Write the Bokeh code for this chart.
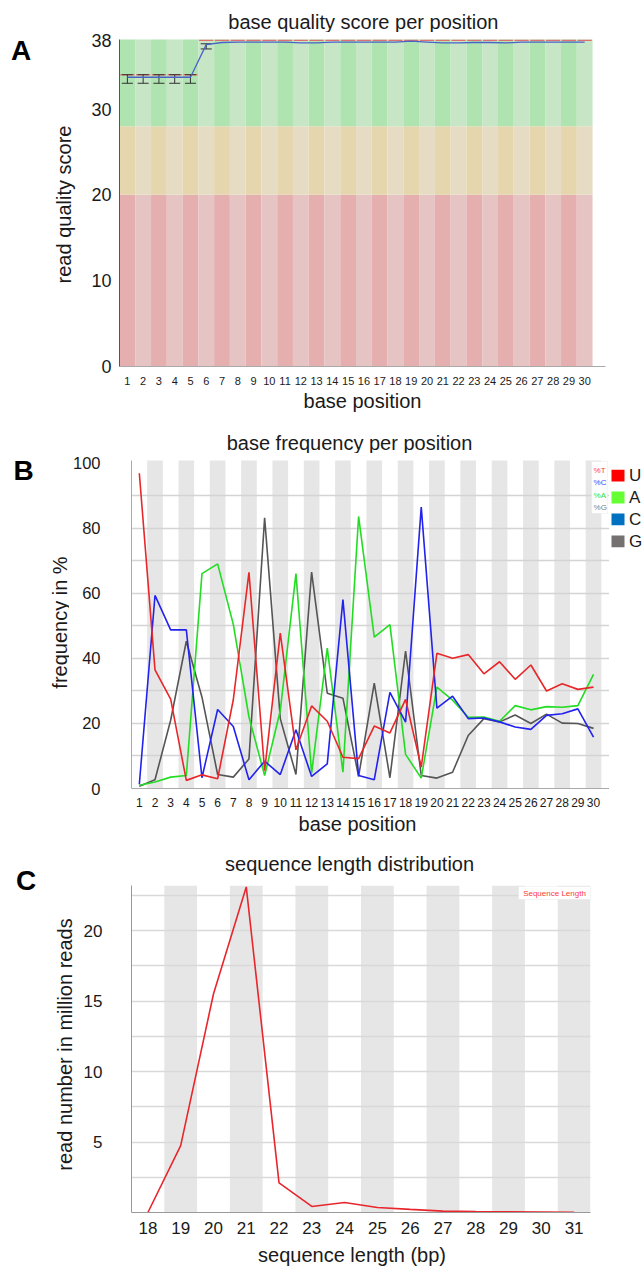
import math
from bokeh.plotting import figure
from bokeh.layouts import column, row
from bokeh.models import (Range1d, Label, FixedTicker, BoxAnnotation)
from bokeh.embed import file_html
from bokeh.resources import INLINE

# ---------------- data: panel A (base quality per position) ----------------
positions = list(range(1, 31))
qual_mean = [33.7, 33.7, 33.7, 33.7, 33.7, 37.5, 37.75, 37.8, 37.8, 37.8,
             37.8, 37.7, 37.7, 37.8, 37.8, 37.8, 37.8, 37.8, 37.9, 37.8,
             37.7, 37.7, 37.75, 37.75, 37.7, 37.8, 37.8, 37.8, 37.8, 37.8]
qual_median = [34, 34, 34, 34, 34, 38, 38, 38, 38, 38,
               38, 38, 38, 38, 38, 38, 38, 38, 38, 38,
               38, 38, 38, 38, 38, 38, 38, 38, 38, 38]
qual_whisker_low = [33, 33, 33, 33, 33, 37, 38, 38, 38, 38,
                    38, 38, 38, 38, 38, 38, 38, 38, 38, 38,
                    38, 38, 38, 38, 38, 38, 38, 38, 38, 38]
qual_whisker_high = [34, 34, 34, 34, 34, 37.6, 38, 38, 38, 38,
                     38, 38, 38, 38, 38, 38, 38, 38, 38, 38,
                     38, 38, 38, 38, 38, 38, 38, 38, 38, 38]
qual_zone_bottom = [0, 20, 28]
qual_zone_top = [20, 28, 40]
qual_yticks = [0, 10, 20, 30, 38]

# ---------------- data: panel B (base frequency per position) ----------------
freq_T = [97.0, 36.5, 27.5, 2.5, 4.2, 3.0, 27.3, 66.5, 5.5, 47.8,
          11.9, 25.4, 20.7, 9.6, 9.2, 19.2, 17.1, 27.4, 6.6, 41.6,
          40.1, 41.2, 35.3, 39.0, 33.6, 38.0, 30.0, 32.2, 30.5, 31.2]
freq_C = [1.3, 59.4, 48.8, 48.8, 3.3, 24.3, 19.1, 2.7, 8.4, 4.3,
          18.1, 3.7, 7.6, 58.1, 4.0, 2.7, 29.6, 20.4, 86.6, 24.7,
          28.4, 21.5, 21.7, 20.5, 18.9, 18.2, 22.5, 23.0, 24.5, 15.8]
freq_A = [1.0, 2.0, 3.5, 4.0, 66.1, 69.1, 50.5, 22.0, 4.0, 24.0,
          66.1, 4.7, 43.2, 5.0, 83.7, 46.6, 50.4, 10.5, 3.2, 31.2,
          27.2, 21.9, 22.0, 20.7, 25.5, 24.2, 25.2, 25.0, 25.5, 35.1]
freq_G = [0.7, 2.7, 21.0, 45.3, 28.1, 4.3, 3.5, 9.1, 83.3, 21.5,
          4.3, 66.6, 29.3, 27.8, 3.7, 32.4, 3.3, 42.3, 4.0, 3.2,
          5.0, 16.3, 21.5, 20.5, 22.6, 20.0, 22.9, 20.1, 20.0, 18.5]
freq_yticks = [0, 20, 40, 60, 80, 100]
freq_grid = [10, 20, 30, 40, 50, 60, 70, 80, 90]
inner_legend_B = ["%T", "%C", "%A", "%G"]
outer_legend_B = ["U", "A", "C", "G"]

# ---------------- data: panel C (sequence length distribution) ----------------
seq_length = [18, 19, 20, 21, 22, 23, 24, 25, 26, 27, 28, 29, 30, 31]
seq_reads_million = [0.0, 4.75, 15.5, 23.1, 2.1, 0.43, 0.71, 0.35, 0.22,
                     0.1, 0.06, 0.05, 0.04, 0.01]
seq_yticks = [5, 10, 15, 20]
seq_grid = [2.5, 5, 7.5, 10, 12.5, 15, 17.5, 20, 22.5]
seq_plot_top = 23.2

# ---------------- styling / layout helpers ----------------
FONT = "Liberation Sans"
TXT = "#1a1a1a"


def base_fig(w, h, xr, yr, **kw):
    p = figure(width=w, height=h, x_range=Range1d(*xr), y_range=Range1d(*yr),
               output_backend="svg", toolbar_location=None, tools="",
               title_location=None, **kw)
    p.outline_line_color = None
    p.background_fill_color = "white"
    p.border_fill_color = "white"
    return p


def text_fig(x0, y0, w, h):
    """Figure whose frame fills its canvas, data units = page pixels (y downward)."""
    p = base_fig(w, h, (x0, x0 + w), (y0 + h, y0), x_axis_location=None,
                 y_axis_location=None, min_border=0)
    p.xgrid.grid_line_color = None
    p.ygrid.grid_line_color = None
    return p


def put(p, X, Y, text, size, bold=False, angle=0.0, color=TXT, align="center"):
    p.add_layout(Label(x=X, y=Y, text=text, text_font=FONT, text_font_size=f"{size}px",
                       text_font_style="bold" if bold else "normal", angle=angle,
                       text_align=align, text_baseline="middle", text_color=color))


def main_fig(cx, cy, w, h, frame, xr, yr):
    L, R, T, B = frame
    p = base_fig(w, h, xr, yr, min_border_left=L - cx, min_border_right=cx + w - R,
                 min_border_top=T - cy, min_border_bottom=cy + h - B)
    p.xgrid.grid_line_color = None
    p.ygrid.grid_line_color = None
    for ax in (p.xaxis[0], p.yaxis[0]):
        ax.major_tick_line_color = None
        ax.minor_tick_line_color = None
        ax.major_tick_out = 0
        ax.major_tick_in = 0
        ax.minor_tick_out = 0
        ax.minor_tick_in = 0
        ax.major_label_text_font = FONT
        ax.major_label_text_color = TXT
    p._geom = (frame, xr, yr)
    return p


def to_data(p, X, Y):
    (L, R, T, B), (x0, x1), (y0, y1) = p._geom
    return (x0 + (X - L) / (R - L) * (x1 - x0), y0 + (B - Y) / (B - T) * (y1 - y0))


def label(p, X, Y, text, size, color=TXT, align="center"):
    x, y = to_data(p, X, Y)
    p.add_layout(Label(x=x, y=y, text=text, text_font=FONT, text_font_size=f"{size}px",
                       text_align=align, text_baseline="middle", text_color=color))


# ======================= Panel A (page y 0..426) =======================
frameA = (119, 605, 39, 366)
mA = main_fig(80, 32, 562, 358, frameA, (0.5, 31.32), (0, 38.1))

zone_dark = ["#e6afaf", "#e6d6ae", "#afe3af"]
zone_light = ["#e6c4c4", "#e6dcc4", "#c6e6c6"]
zl, zr, zb, zt, zc = [], [], [], [], []
for zi in range(len(qual_zone_bottom)):
    for pos in positions:
        zl.append(pos - 0.5)
        zr.append(pos + 0.5)
        zb.append(qual_zone_bottom[zi])
        zt.append(qual_zone_top[zi])
        zc.append(zone_dark[zi] if pos % 2 == 1 else zone_light[zi])
mA.quad(left=zl, right=zr, bottom=zb, top=zt, fill_color=zc, line_color=None)

mA.segment(x0=[q - 0.45 for q in positions], x1=[q + 0.45 for q in positions],
           y0=qual_median, y1=qual_median, line_color="#e07070", line_width=1.5)
wx = [q for q, lo, hi in zip(positions, qual_whisker_low, qual_whisker_high) if hi > lo]
wlo = [lo for lo, hi in zip(qual_whisker_low, qual_whisker_high) if hi > lo]
whi = [hi for lo, hi in zip(qual_whisker_low, qual_whisker_high) if hi > lo]
mA.segment(x0=wx, x1=wx, y0=wlo, y1=whi, line_color="#333333", line_width=1)
mA.segment(x0=[q - 0.35 for q in wx], x1=[q + 0.35 for q in wx], y0=wlo, y1=wlo,
           line_color="#333333", line_width=1)
mA.segment(x0=[q - 0.35 for q in wx], x1=[q + 0.35 for q in wx], y0=whi, y1=whi,
           line_color="#333333", line_width=1)
mA.line(positions, qual_mean, line_color="#4a63c8", line_width=1.3)

mA.xaxis.ticker = FixedTicker(ticks=positions)
mA.yaxis.ticker = FixedTicker(ticks=qual_yticks)
mA.xaxis.major_label_text_font_size = "11px"
mA.yaxis.major_label_text_font_size = "18px"
mA.xaxis.major_label_standoff = 10
mA.yaxis.major_label_standoff = 8
mA.yaxis.axis_line_color = "#555555"
mA.xaxis.axis_line_color = "#aaaaaa"

lA = text_fig(0, 0, 80, 426)
put(lA, 20.5, 50, "A", 28, bold=True, color="#000000")
put(lA, 63, 204, "read quality score", 20, angle=math.pi / 2)
tA = text_fig(80, 0, 562, 32)
put(tA, 362, 21, "base quality score per position", 20)
bA = text_fig(80, 390, 562, 36)
put(bA, 361, 400, "base position", 20)

panelA = row(lA, column(tA, mA, bA, spacing=0), spacing=0)

# ======================= Panel B (page y 426..846) =======================
frameB = (128, 609, 460, 788)
mB = main_fig(69, 453, 540, 359, frameB, (0.5, 31.02), (0, 100.92))

bandB = [q for q in positions if q % 2 == 0]
mB.quad(left=[q - 0.5 for q in bandB], right=[q + 0.5 for q in bandB],
        bottom=0, top=200, fill_color="#e6e6e6", line_color=None, level="image")
mB.ygrid.grid_line_color = "#d4d4d4"
mB.ygrid.grid_line_width = 1.5
mB.ygrid.ticker = FixedTicker(ticks=freq_grid)

mB.line(positions, freq_G, line_color="#555555", line_width=1.6)
mB.line(positions, freq_A, line_color="#22dd22", line_width=1.6)
mB.line(positions, freq_C, line_color="#2222ee", line_width=1.6)
mB.line(positions, freq_T, line_color="#e8272a", line_width=1.6)

mB.xaxis.ticker = FixedTicker(ticks=positions)
mB.yaxis.ticker = FixedTicker(ticks=freq_yticks)
mB.xaxis.major_label_text_font_size = "12px"
mB.yaxis.major_label_text_font_size = "16.5px"
mB.xaxis.major_label_standoff = 9
mB.yaxis.major_label_standoff = 31
mB.yaxis.axis_line_color = "#aaaaaa"
mB.xaxis.axis_line_color = "#aaaaaa"

bl, bt = to_data(mB, 591, 461)
br, bb = to_data(mB, 607, 513)
mB.add_layout(BoxAnnotation(left=bl, right=br, top=bt, bottom=bb, fill_color="white",
                            fill_alpha=1.0, line_color="#dddddd", line_width=1))
inner_cols = ["#ff3b3b", "#4444ff", "#33dd33", "#808080"]
for i, (txt, col) in enumerate(zip(inner_legend_B, inner_cols)):
    label(mB, 593, 470 + i * 12.3, txt, 8, color=col, align="left")

# outer legend (coloured squares + base letters) in its own strip right of the plot
rB = text_fig(609, 453, 33, 359)
outer_cols = ["#ff0000", "#66ff33", "#0070c0", "#767171"]
leg_y = [469.5 + 24 * i for i in range(len(outer_legend_B))]
rB.quad(left=611, right=624, top=[y - 6.5 for y in leg_y], bottom=[y + 6.5 for y in leg_y],
        fill_color=outer_cols, line_color=None)
for txt, y in zip(outer_legend_B, leg_y):
    put(rB, 628.5, y, txt, 17, align="left")

lB = text_fig(0, 426, 69, 420)
put(lB, 23, 469.5, "B", 28, bold=True, color="#000000")
put(lB, 59, 622, "frequency in %", 20, angle=math.pi / 2)
tB = text_fig(69, 426, 573, 27)
put(tB, 349, 442, "base frequency per position", 20)
bB = text_fig(69, 812, 573, 34)
put(bB, 357, 823, "base position", 20)

panelB = row(lB, column(tB, row(mB, rB, spacing=0), bB, spacing=0), spacing=0)

# ======================= Panel C (page y 846..1266) =======================
frameC = (131, 590, 885, 1212)
mC = main_fig(80, 875, 562, 368, frameC, (17.5, 31.5), (0, seq_plot_top))

bandC = [s for s in seq_length if s % 2 == 1]
mC.quad(left=[s - 0.5 for s in bandC], right=[s + 0.5 for s in bandC],
        bottom=0, top=seq_plot_top, fill_color="#e6e6e6", line_color=None, level="image")
mC.ygrid.grid_line_color = "#d9d9d9"
mC.ygrid.grid_line_width = 1.5
mC.ygrid.ticker = FixedTicker(ticks=seq_grid)

mC.line(seq_length, seq_reads_million, line_color="#e8262c", line_width=1.6)

mC.xaxis.ticker = FixedTicker(ticks=seq_length)
mC.yaxis.ticker = FixedTicker(ticks=seq_yticks)
mC.xaxis.major_label_text_font_size = "17px"
mC.yaxis.major_label_text_font_size = "17px"
mC.xaxis.major_label_standoff = 9
mC.yaxis.major_label_standoff = 29
mC.yaxis.axis_line_color = "#999999"
mC.xaxis.axis_line_color = "#999999"

cl, ct = to_data(mC, 518, 886)
cr, cb = to_data(mC, 590, 899)
mC.add_layout(BoxAnnotation(left=cl, right=cr, top=ct, bottom=cb, fill_color="white",
                            fill_alpha=1.0, line_color="#dddddd", line_width=1))
label(mC, 554, 892.5, "Sequence Length", 8, color="#ff3b3b")

lC = text_fig(0, 846, 80, 420)
put(lC, 25.5, 879.5, "C", 28, bold=True, color="#000000")
put(lC, 64, 1044, "read number in million reads", 20, angle=math.pi / 2)
tC = text_fig(80, 846, 562, 29)
put(tC, 347, 863, "sequence length distribution", 20)
bC = text_fig(80, 1243, 562, 23)
put(bC, 350, 1254, "sequence length (bp)", 20)

panelC = row(lC, column(tC, mC, bC, spacing=0), spacing=0)

layout = column(panelA, panelB, panelC, spacing=0)
open("out.html", "w").write(file_html(layout, INLINE))
